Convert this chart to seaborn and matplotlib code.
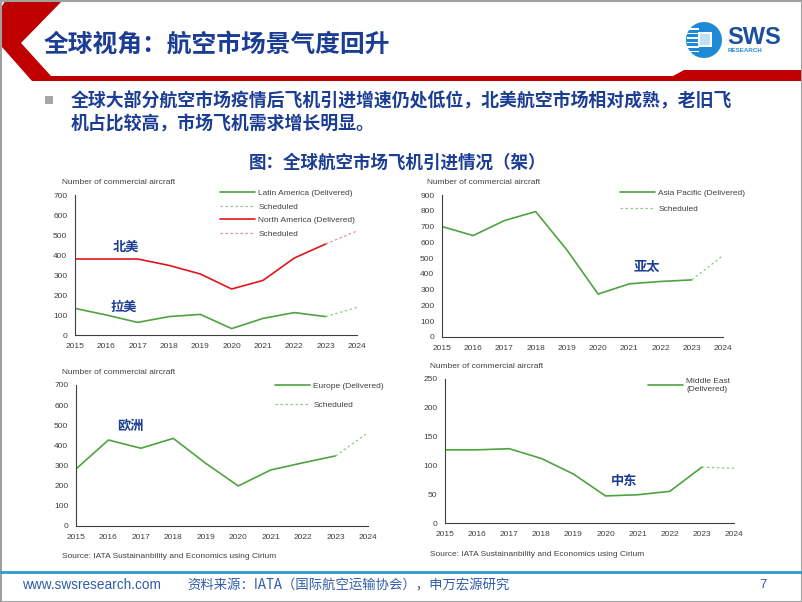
import matplotlib
matplotlib.use("Agg")
import matplotlib.pyplot as plt
import seaborn as sns
from matplotlib.lines import Line2D
from matplotlib.patches import Polygon, Circle, Rectangle

# ---- data ----
years = [2015, 2016, 2017, 2018, 2019, 2020, 2021, 2022, 2023, 2024]
delivered_years = years[:9]
scheduled_years = years[8:]

la_delivered = [133, 100, 63, 92, 103, 32, 83, 112, 92]
la_scheduled = [92, 138]
na_delivered = [380, 380, 380, 348, 305, 230, 273, 385, 455]
na_scheduled = [455, 520]
ap_delivered = [700, 643, 738, 795, 552, 272, 337, 352, 362]
ap_scheduled = [362, 516]
eu_delivered = [283, 427, 386, 435, 311, 199, 278, 314, 348]
eu_scheduled = [348, 463]
me_delivered = [127, 127, 129, 112, 85, 47, 49, 55, 97]
me_scheduled = [97, 95]

# ---- style ----
sns.set_style("white")
plt.rcParams['font.family'] = ['Liberation Sans', 'Noto Sans CJK SC', 'DejaVu Sans']
CJK = ['Noto Sans CJK SC', 'DejaVu Sans']

GREEN = '#4EA340'
GREEN_LT = '#93C986'
RED = '#E1141E'
RED_LT = '#F08A8E'
NAVY = '#1B3D94'
TXT = '#404040'
DOT = (0, (2, 2))

W, H = 802, 602
fig = plt.figure(figsize=(W / 100, H / 100), dpi=100)

# background layer in pixel coordinates
bg = fig.add_axes([0, 0, 1, 1])
bg.set_xlim(0, W)
bg.set_ylim(H, 0)
bg.axis('off')

# red chevron + band at the top
bg.add_patch(Polygon([(6, 0), (63, 0), (21, 43), (51, 76), (673, 76), (684, 70),
                      (W, 70), (W, 81), (32, 81), (2, 47), (2, 6)],
                     closed=True, color='#C00000', lw=0))
bg.text(44, 45, '全球视角：航空市场景气度回升', family=CJK, fontsize=17.8,
        fontweight='bold', color=NAVY, va='center', ha='left')

# logo
bg.add_patch(Circle((704, 40), 18, color='#1E8AD6', lw=0))
for yy in [29, 33.5, 38, 42.5, 47, 51.5]:
    bg.add_patch(Rectangle((687, yy - 0.8), 12, 1.6, color='white', lw=0))
bg.add_patch(Rectangle((698, 32), 14, 15, color='white', lw=0))
bg.add_patch(Rectangle((700, 34), 10, 11, color='#BFE0F7', lw=0))
bg.text(727, 37, 'SWS', fontsize=17, fontweight='bold', color='#1B4F9E',
        va='center', ha='left')
bg.text(728, 51, 'RESEARCH', fontsize=4.5, fontweight='bold', color='#2B8AD8',
        va='center', ha='left')

# bullet text
bg.add_patch(Rectangle((45, 96), 8, 8, color='#A6A6A6', lw=0))
bg.text(71, 100, '全球大部分航空市场疫情后飞机引进增速仍处低位，北美航空市场相对成熟，老旧飞',
        family=CJK, fontsize=12.9, fontweight='bold', color=NAVY, va='center')
bg.text(71, 124, '机占比较高，市场飞机需求增长明显。',
        family=CJK, fontsize=12.9, fontweight='bold', color=NAVY, va='center')
bg.text(398, 163, '图：全球航空市场飞机引进情况（架）', family=CJK, fontsize=12.6,
        fontweight='bold', color=NAVY, va='center', ha='center')

# footer
bg.plot([0, W], [572, 572], color='#2E9CCA', lw=2)
bg.text(22, 585, 'www.swsresearch.com', fontsize=9.8, color='#2E5DA8', va='center')
bg.text(187, 585, '资料来源：IATA（国际航空运输协会），申万宏源研究', family=CJK,
        fontsize=9.6, color='#2E5DA8', va='center')
bg.text(763, 585, '7', fontsize=9.5, color='#2E5DA8', va='center', ha='center')

# slide frame
bg.add_patch(Rectangle((0.5, 0.5), W - 1, H - 1, fill=False, ec='#A0A0A0', lw=1.5))


def panel(px):
    x0, y0, x1, y1 = px
    ax = fig.add_axes([x0 / W, 1 - y1 / H, (x1 - x0) / W, (y1 - y0) / H])
    ax.set_facecolor('none')
    return ax


def style(ax, ymax, ystep):
    ax.set_xlim(2015, 2024)
    ax.set_ylim(0, ymax)
    ax.set_xticks(years)
    ax.set_yticks(range(0, ymax + 1, ystep))
    for s in ['top', 'right']:
        ax.spines[s].set_visible(False)
    for s in ['left', 'bottom']:
        ax.spines[s].set_color('#404040')
        ax.spines[s].set_linewidth(0.8)
    ax.tick_params(axis='both', direction='out', length=3, width=0.8,
                   color='#404040', labelsize=6, labelcolor=TXT, pad=2.5)
    ax.set_xlabel('')
    ax.set_ylabel('')


def draw(ax, dlv, sch, c, c_lt):
    sns.lineplot(x=delivered_years, y=dlv, ax=ax, color=c, lw=1.2, legend=False)
    sns.lineplot(x=scheduled_years, y=sch, ax=ax, color=c_lt, lw=0.9,
                 linestyle=DOT, legend=False)


def legend(ax, entries, anchor, spacing):
    handles = [Line2D([], [], color=c, lw=lw, linestyle=ls) for _, c, lw, ls in entries]
    labels = [e[0] for e in entries]
    ax.legend(handles, labels, loc='upper left', bbox_to_anchor=anchor, frameon=False,
              fontsize=6, labelcolor=TXT, handlelength=4.2, handletextpad=0.4,
              labelspacing=spacing, borderpad=0, borderaxespad=0)


def label(text, x, y):
    bg.text(x, y, text, family=CJK, fontsize=9.5, fontweight='bold', color=NAVY,
            ha='center', va='center')


ylab = 'Number of commercial aircraft'
src = 'Source: IATA Sustainanbility and Economics using Cirium'

# panel 1: Latin America / North America
ax1 = panel((75, 195, 357, 335))
draw(ax1, la_delivered, la_scheduled, GREEN, GREEN_LT)
draw(ax1, na_delivered, na_scheduled, RED, RED_LT)
style(ax1, 700, 100)
legend(ax1, [('Latin America (Delivered)', GREEN, 1.2, '-'),
             ('Scheduled', GREEN_LT, 0.9, DOT),
             ('North America (Delivered)', RED, 1.2, '-'),
             ('Scheduled', RED_LT, 0.9, DOT)], (0.514, 1.041), 0.68)
bg.text(62, 183, ylab, fontsize=6, color=TXT, va='center')
label('北美', 126, 247)
label('拉美', 124, 307)

# panel 2: Asia Pacific
ax2 = panel((442, 195, 723, 337))
draw(ax2, ap_delivered, ap_scheduled, GREEN, GREEN_LT)
style(ax2, 900, 100)
legend(ax2, [('Asia Pacific (Delivered)', GREEN, 1.2, '-'),
             ('Scheduled', GREEN_LT, 0.9, DOT)], (0.633, 1.041), 1.0)
bg.text(427, 182, ylab, fontsize=6, color=TXT, va='center')
label('亚太', 647, 267)

# panel 3: Europe
ax3 = panel((76, 385, 368, 526))
draw(ax3, eu_delivered, eu_scheduled, GREEN, GREEN_LT)
style(ax3, 700, 100)
legend(ax3, [('Europe (Delivered)', GREEN, 1.2, '-'),
             ('Scheduled', GREEN_LT, 0.9, DOT)], (0.682, 1.02), 1.37)
bg.text(62, 373, ylab, fontsize=6, color=TXT, va='center')
bg.text(62, 557, src, fontsize=6, color=TXT, va='center')
label('欧洲', 130, 426)

# panel 4: Middle East
ax4 = panel((445, 379, 734, 523))
draw(ax4, me_delivered, me_scheduled, GREEN, GREEN_LT)
style(ax4, 250, 50)
legend(ax4, [('Middle East\n(Delivered)', GREEN, 1.2, '-')], (0.702, 1.006), 0.5)
bg.text(430, 367, ylab, fontsize=6, color=TXT, va='center')
bg.text(430, 555, src, fontsize=6, color=TXT, va='center')
label('中东', 624, 481)

fig.savefig('out.png', dpi=100)
